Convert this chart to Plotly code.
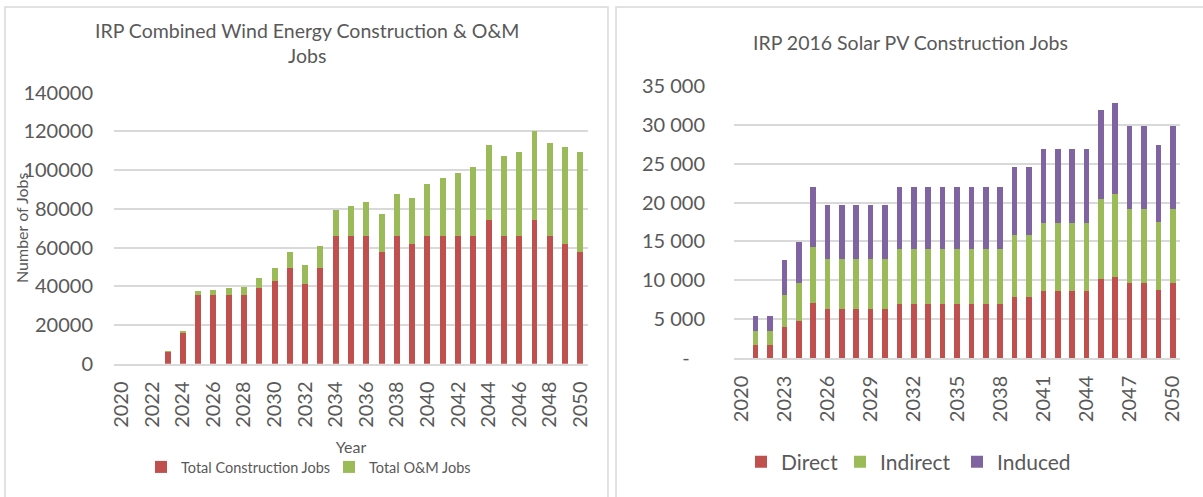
import plotly.graph_objects as go

# ---------------- data ----------------
years = list(range(2020, 2051))

wind_construction = [0, 0, 0, 6400, 16400, 35700, 35700, 35700, 35700, 39300,
                     42900, 49600, 41350, 49600, 66150, 66150, 66150, 57900, 66150, 62000,
                     66150, 66150, 66150, 66150, 74400, 66150, 66150, 74400, 66150, 62000,
                     57900]
wind_om = [0, 0, 0, 300, 400, 1700, 2400, 3270, 4130, 5000,
           6700, 8100, 9470, 11370, 13440, 15500, 17570, 19470, 21530, 23770,
           26700, 29630, 32385, 35490, 38590, 41170, 43410, 45820, 47890, 49960,
           51510]

solar_direct = [0, 1700, 1700, 4000, 4800, 7070, 6300, 6300, 6300, 6300,
                6300, 7000, 7000, 7000, 7000, 7000, 7000, 7000, 7000, 7800,
                7800, 8570, 8570, 8570, 8570, 10200, 10450, 9600, 9600, 8780,
                9600]
solar_indirect = [0, 1750, 1750, 4100, 4840, 7155, 6425, 6425, 6425, 6425,
                  6425, 7050, 7050, 7050, 7050, 7050, 7050, 7050, 7050, 8000,
                  8000, 8740, 8740, 8740, 8740, 10280, 10630, 9550, 9550, 8740,
                  9550]
solar_induced = [0, 1950, 1950, 4500, 5310, 7840, 6940, 6940, 6940, 6940,
                 6940, 7900, 7900, 7900, 7900, 7900, 7900, 7900, 7900, 8800,
                 8800, 9600, 9600, 9600, 9600, 11440, 11700, 10700, 10700, 9860,
                 10700]

wind_yticks = [0, 20000, 40000, 60000, 80000, 100000, 120000, 140000]
solar_yticks = [0, 5000, 10000, 15000, 20000, 25000, 30000, 35000]
solar_yticklabels = ["-\u00a0\u00a0\u00a0", "5 000", "10 000", "15 000", "20 000",
                     "25 000", "30 000", "35 000"]

left_title = "IRP Combined Wind Energy Construction & O&M<br>Jobs"
right_title = "IRP 2016 Solar PV Construction Jobs"

# ---------------- style ----------------
W, H = 1203, 497
RED = "#C0504D"
GREEN = "#9BBB59"
PURPLE = "#8064A2"
GRID = "#D9D9D9"
TXT = "#595959"
FONT = "Lato"


def px_x(x):
    return x / W


def px_y(y):
    return 1 - y / H


fig = go.Figure()

fig.add_trace(go.Bar(x=years, y=wind_construction, name="Total Construction Jobs",
                     marker=dict(color=RED, line=dict(width=0)),
                     xaxis="x", yaxis="y", legend="legend", legendwidth=143))
fig.add_trace(go.Bar(x=years, y=wind_om, name="Total O&M Jobs",
                     marker=dict(color=GREEN, line=dict(width=0)),
                     xaxis="x", yaxis="y", legend="legend"))

fig.add_trace(go.Bar(x=years, y=solar_direct, name="Direct",
                     marker=dict(color=RED, line=dict(width=0)),
                     xaxis="x2", yaxis="y2", legend="legend2", legendwidth=54))
fig.add_trace(go.Bar(x=years, y=solar_indirect, name="Indirect",
                     marker=dict(color=GREEN, line=dict(width=0)),
                     xaxis="x2", yaxis="y2", legend="legend2", legendwidth=72))
fig.add_trace(go.Bar(x=years, y=solar_induced, name="Induced",
                     marker=dict(color=PURPLE, line=dict(width=0)),
                     xaxis="x2", yaxis="y2", legend="legend2"))

axis_common = dict(showgrid=False, zeroline=False, fixedrange=True, automargin=False)

fig.update_layout(
    width=W, height=H,
    margin=dict(l=0, r=0, t=0, b=0, autoexpand=False),
    paper_bgcolor="white", plot_bgcolor="white",
    barmode="stack", bargap=0.61,
    font=dict(family=FONT, color=TXT, size=20),
    xaxis=dict(domain=[px_x(114), px_x(588)], anchor="y",
               range=[2019.5, 2050.5], tickmode="linear", tick0=2020, dtick=2,
               tickangle=-90, tickfont=dict(size=20, color=TXT),
               showline=True, linecolor=GRID, linewidth=1.5,
               ticks="", ticklabelstandoff=8,
               title=dict(text="Year", font=dict(size=16, color=TXT), standoff=15),
               **axis_common),
    yaxis=dict(domain=[px_y(363.7), px_y(92.7)], anchor="x",
               range=[0, 140000], tickmode="array", tickvals=wind_yticks,
               tickformat="d", tickfont=dict(size=20, color=TXT),
               showgrid=True, gridcolor=GRID, gridwidth=1.5,
               zeroline=False, fixedrange=True, automargin=False,
               ticks="", ticklabelstandoff=20),
    xaxis2=dict(domain=[px_x(734), px_x(1180)], anchor="y2",
                range=[2019.5, 2050.5], tickmode="linear", tick0=2020, dtick=3,
                tickangle=-90, tickfont=dict(size=20, color=TXT),
                showline=True, linecolor=GRID, linewidth=1.5,
                ticks="", ticklabelstandoff=8,
                **axis_common),
    yaxis2=dict(domain=[px_y(358), px_y(86)], anchor="x2",
                range=[0, 35000], tickmode="array", tickvals=solar_yticks,
                ticktext=solar_yticklabels, tickfont=dict(size=20, color=TXT),
                showgrid=True, gridcolor=GRID, gridwidth=1.5,
                zeroline=False, fixedrange=True, automargin=False,
                ticks="", ticklabelstandoff=28),
    legend=dict(orientation="h", x=px_x(141), xanchor="left",
                y=px_y(467), yanchor="middle", font=dict(size=14.5, color=TXT),
                bgcolor="rgba(0,0,0,0)", traceorder="normal"),
    legend2=dict(orientation="h", x=px_x(741), xanchor="left",
                 y=px_y(462), yanchor="middle", font=dict(size=21, color=TXT),
                 bgcolor="rgba(0,0,0,0)", traceorder="normal"),
    showlegend=True,
)

# chart titles
fig.add_annotation(text=left_title, x=px_x(307), y=px_y(43), xref="paper", yref="paper",
                   xanchor="center", yanchor="middle", showarrow=False,
                   font=dict(size=19.5, color=TXT), align="center")
fig.add_annotation(text=right_title, x=px_x(910), y=px_y(42), xref="paper", yref="paper",
                   xanchor="center", yanchor="middle", showarrow=False,
                   font=dict(size=19.5, color=TXT), align="center")
# y-axis title of the wind chart (overlaps tick labels as in the source)
fig.add_annotation(text="Number of Jobs", x=px_x(21), y=px_y(228), xref="paper", yref="paper",
                   xanchor="center", yanchor="middle", showarrow=False, textangle=-90,
                   font=dict(size=16, color=TXT))

# chart-area borders
fig.add_shape(type="rect", xref="paper", yref="paper",
              x0=px_x(5), x1=px_x(608), y0=px_y(520), y1=px_y(7),
              line=dict(color=GRID, width=1.5), fillcolor="rgba(0,0,0,0)", layer="below")
fig.add_shape(type="rect", xref="paper", yref="paper",
              x0=px_x(616), x1=px_x(1230), y0=px_y(520), y1=px_y(7),
              line=dict(color=GRID, width=1.5), fillcolor="rgba(0,0,0,0)", layer="below")

# remove the default page margin so the 1203x497 figure fills the window exactly
fig.write_html("out.html",
               config={"displayModeBar": False, "responsive": False},
               post_script="document.body.style.margin='0';"
                           "document.documentElement.style.overflow='hidden';")
